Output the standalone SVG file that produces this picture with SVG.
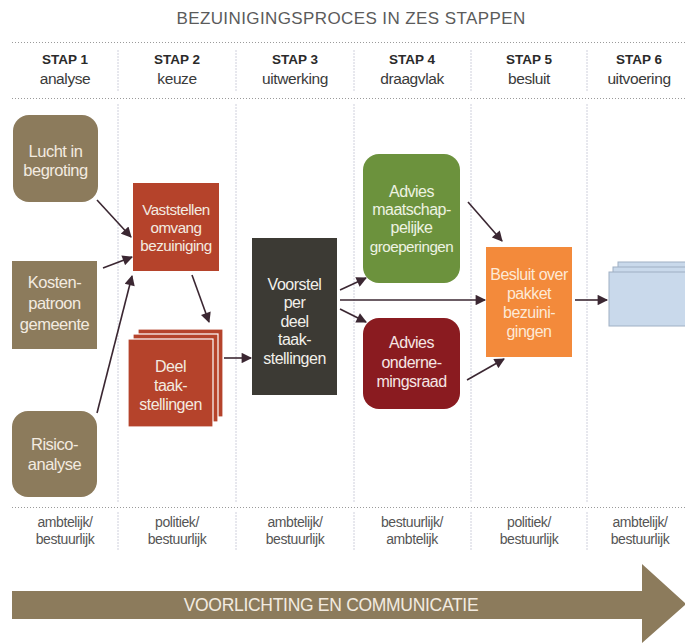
<svg xmlns="http://www.w3.org/2000/svg" width="685" height="643" viewBox="0 0 685 643">
  <style>
    .title { font-family: "Liberation Sans", Arial, sans-serif; font-size: 17px; fill: #5b5b5b; text-anchor: middle; letter-spacing: 0.4px; }
    .stap { font-family: "Liberation Sans", Arial, sans-serif; font-size: 13.5px; font-weight: bold; fill: #2a2a2a; text-anchor: middle; }
    .sub { font-family: "Liberation Sans", Arial, sans-serif; font-size: 15.5px; fill: #3a3a3a; text-anchor: middle; letter-spacing: -0.4px; }
    .foot { font-family: "Liberation Sans", Arial, sans-serif; font-size: 14px; fill: #555; text-anchor: middle; letter-spacing: -0.4px; }
    .lbl { font-family: "Liberation Sans", Arial, sans-serif; font-size: 16px; text-anchor: middle; letter-spacing: -0.5px; }
    .big { font-size: 16.5px; }
    .small { font-size: 15.2px; }
    .light { fill: #f3ebe0; }
    .dots { stroke: #9a9a9a; stroke-width: 1.2; stroke-dasharray: 1 2; fill: none; }
    .divider { stroke: #cfd0dc; stroke-width: 1; stroke-dasharray: 2 1; fill: none; }
    .conn { stroke: #3b2732; stroke-width: 1.6; fill: none; marker-end: url(#head); }
    .brown { fill: #8c7b5c; }
    .brick { fill: #b5432b; }
  </style>
  <defs>
    <marker id="head" viewBox="0 0 10 10" refX="9" refY="5" markerWidth="7.5" markerHeight="6.5" markerUnits="strokeWidth" orient="auto">
      <path d="M0,0 L10,5 L0,10 Z" fill="#3b2732"/>
    </marker>
  </defs>

  <rect width="685" height="643" fill="#ffffff"/>

  <!-- heading -->
  <text class="title" x="351" y="24">BEZUINIGINGSPROCES IN ZES STAPPEN</text>

  <!-- dotted rules -->
  <line class="dots" x1="12" y1="42.5" x2="685" y2="42.5"/>
  <line class="dots" x1="12" y1="98.5" x2="685" y2="98.5"/>
  <line class="dots" x1="12" y1="507.5" x2="685" y2="507.5"/>

  <!-- column dividers -->
  <g id="dividers">
    <path class="divider" d="M118,50 V92 M118,104 V502 M118,512 V550"/>
    <path class="divider" d="M236,50 V92 M236,104 V502 M236,512 V550"/>
    <path class="divider" d="M354,50 V92 M354,104 V502 M354,512 V550"/>
    <path class="divider" d="M471,50 V92 M471,104 V502 M471,512 V550"/>
    <path class="divider" d="M587,50 V92 M587,104 V502 M587,512 V550"/>
  </g>

  <!-- step headers -->
  <g id="headers">
    <text class="stap" x="65" y="64">STAP 1</text><text class="sub" x="65" y="84">analyse</text>
    <text class="stap" x="177" y="64">STAP 2</text><text class="sub" x="177" y="84">keuze</text>
    <text class="stap" x="295" y="64">STAP 3</text><text class="sub" x="295" y="84">uitwerking</text>
    <text class="stap" x="412" y="64">STAP 4</text><text class="sub" x="412" y="84">draagvlak</text>
    <text class="stap" x="529" y="64">STAP 5</text><text class="sub" x="529" y="84">besluit</text>
    <text class="stap" x="639" y="64">STAP 6</text><text class="sub" x="639" y="84">uitvoering</text>
  </g>

  <!-- connectors -->
  <g id="connectors">
    <line class="conn" x1="97" y1="200" x2="131" y2="237"/>
    <line class="conn" x1="103" y1="268" x2="132" y2="257"/>
    <line class="conn" x1="97" y1="413" x2="132" y2="276"/>
    <line class="conn" x1="192" y1="275" x2="209" y2="322"/>
    <line class="conn" x1="224" y1="358" x2="251" y2="358"/>
    <line class="conn" x1="340" y1="290" x2="366" y2="278"/>
    <line class="conn" x1="340" y1="300" x2="485" y2="300"/>
    <line class="conn" x1="340" y1="309" x2="366" y2="322"/>
    <line class="conn" x1="468" y1="202" x2="502" y2="241"/>
    <line class="conn" x1="467" y1="380" x2="504" y2="359"/>
    <line class="conn" x1="575" y1="300" x2="607" y2="300"/>
  </g>

  <!-- step 1 -->
  <g id="lucht">
    <rect class="brown" x="13" y="115" width="85" height="87" rx="16"/>
    <text class="lbl big light" x="55.5" y="157">Lucht in</text>
    <text class="lbl big light" x="55.5" y="176">begroting</text>
  </g>
  <g id="kosten">
    <rect class="brown" x="12" y="261" width="85" height="88"/>
    <text class="lbl big light" x="54.5" y="288">Kosten-</text>
    <text class="lbl big light" x="54.5" y="309">patroon</text>
    <text class="lbl big light" x="54.5" y="330">gemeente</text>
  </g>
  <g id="risico">
    <rect class="brown" x="12" y="411" width="85" height="86" rx="16"/>
    <text class="lbl big light" x="54.5" y="450">Risico-</text>
    <text class="lbl big light" x="54.5" y="470">analyse</text>
  </g>

  <!-- step 2 -->
  <g id="vaststellen">
    <rect class="brick" x="133" y="183" width="86" height="88"/>
    <text class="lbl small light" x="176" y="215">Vaststellen</text>
    <text class="lbl small light" x="176" y="233">omvang</text>
    <text class="lbl small light" x="176" y="251">bezuiniging</text>
  </g>
  <g id="deel">
    <rect class="brick" x="138" y="329" width="85" height="88" stroke="#ffffff" stroke-width="1.2"/>
    <rect class="brick" x="133" y="334" width="85" height="88" stroke="#ffffff" stroke-width="1.2"/>
    <rect class="brick" x="128" y="339" width="85" height="88" stroke="#ffffff" stroke-width="1.2"/>
    <text class="lbl light" x="170.5" y="372">Deel</text>
    <text class="lbl light" x="170.5" y="391">taak-</text>
    <text class="lbl light" x="170.5" y="410">stellingen</text>
  </g>

  <!-- step 3 -->
  <g id="voorstel">
    <rect x="252" y="238" width="85" height="157" fill="#3c3a34"/>
    <text class="lbl" fill="#f2f0ea" x="294.5" y="290">Voorstel</text>
    <text class="lbl" fill="#f2f0ea" x="294.5" y="308">per</text>
    <text class="lbl" fill="#f2f0ea" x="294.5" y="327">deel</text>
    <text class="lbl" fill="#f2f0ea" x="294.5" y="345">taak-</text>
    <text class="lbl" fill="#f2f0ea" x="294.5" y="364">stellingen</text>
  </g>

  <!-- step 4 -->
  <g id="advies-groeperingen">
    <rect x="363" y="154" width="97" height="129" rx="16" fill="#6c923d"/>
    <text class="lbl" fill="#eef3e2" x="411.5" y="197">Advies</text>
    <text class="lbl" fill="#eef3e2" x="411.5" y="215">maatschap-</text>
    <text class="lbl" fill="#eef3e2" x="411.5" y="233">pelijke</text>
    <text class="lbl small" fill="#eef3e2" x="411.5" y="252">groeperingen</text>
  </g>
  <g id="advies-or">
    <rect x="363" y="318" width="97" height="91" rx="16" fill="#8a1b20"/>
    <text class="lbl" fill="#f6e6e4" x="411.5" y="348">Advies</text>
    <text class="lbl" fill="#f6e6e4" x="411.5" y="368">onderne-</text>
    <text class="lbl" fill="#f6e6e4" x="411.5" y="387">mingsraad</text>
  </g>

  <!-- step 5 -->
  <g id="besluit">
    <rect x="486" y="247" width="86" height="110" fill="#f38a3b"/>
    <text class="lbl" fill="#fde9d6" x="529" y="280">Besluit over</text>
    <text class="lbl" fill="#fde9d6" x="529" y="299">pakket</text>
    <text class="lbl" fill="#fde9d6" x="529" y="318">bezuini-</text>
    <text class="lbl" fill="#fde9d6" x="529" y="337">gingen</text>
  </g>

  <!-- step 6 -->
  <g id="uitvoering">
    <rect x="618" y="262" width="80" height="54" fill="#c9d9eb" stroke="#9fb0c4" stroke-width="1"/>
    <rect x="613" y="267" width="80" height="54" fill="#c9d9eb" stroke="#9fb0c4" stroke-width="1"/>
    <rect x="609" y="272" width="80" height="54" fill="#c9d9eb" stroke="#9fb0c4" stroke-width="1"/>
  </g>

  <!-- responsibility row -->
  <g id="roles">
    <text class="foot" x="65" y="527">ambtelijk/</text><text class="foot" x="65" y="544">bestuurlijk</text>
    <text class="foot" x="177" y="527">politiek/</text><text class="foot" x="177" y="544">bestuurlijk</text>
    <text class="foot" x="295" y="527">ambtelijk/</text><text class="foot" x="295" y="544">bestuurlijk</text>
    <text class="foot" x="412" y="527">bestuurlijk/</text><text class="foot" x="412" y="544">ambtelijk</text>
    <text class="foot" x="529" y="527">politiek/</text><text class="foot" x="529" y="544">bestuurlijk</text>
    <text class="foot" x="640" y="527">ambtelijk/</text><text class="foot" x="640" y="544">bestuurlijk</text>
  </g>

  <!-- communication arrow -->
  <g id="voorlichting">
    <path d="M12,591 H642 V564 L686,604 L642,643 V619 H12 Z" fill="#8c7b5c"/>
    <text class="lbl" fill="#f3ebe0" x="331" y="611" style="font-size:17.5px;letter-spacing:-0.3px">VOORLICHTING EN COMMUNICATIE</text>
  </g>
</svg>
